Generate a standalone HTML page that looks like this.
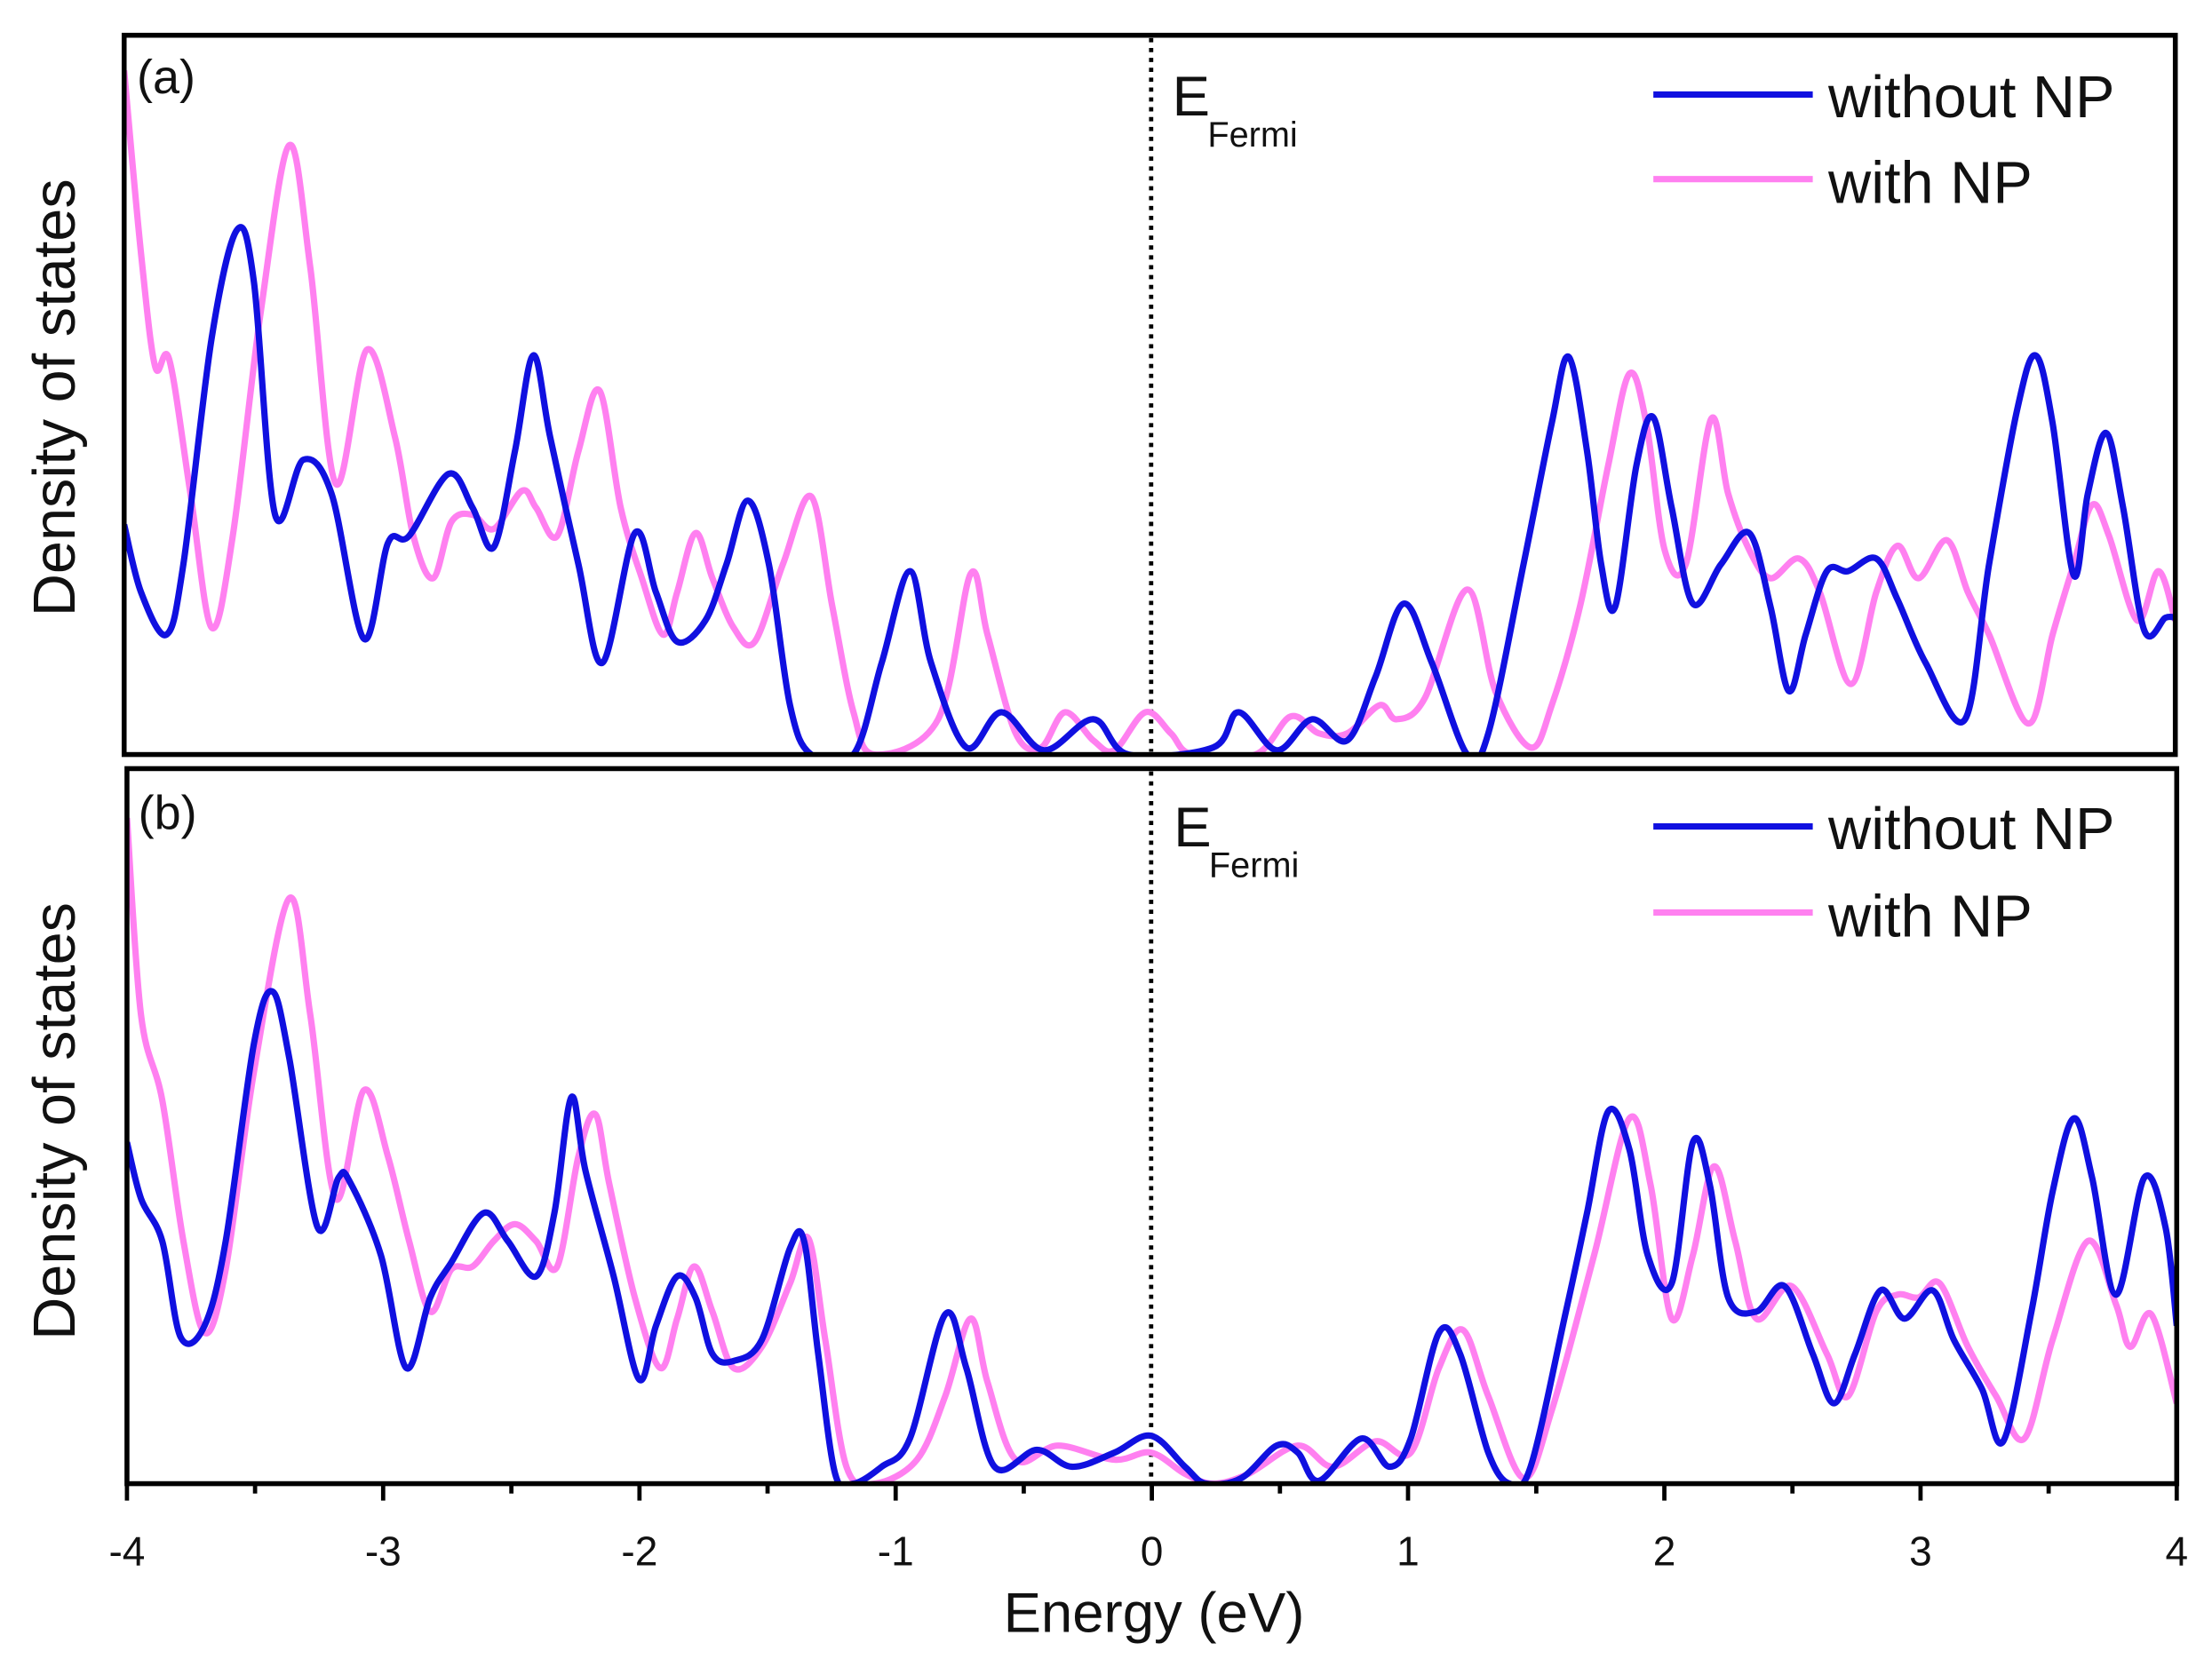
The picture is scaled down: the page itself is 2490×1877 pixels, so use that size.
<!DOCTYPE html>
<html><head><meta charset="utf-8"><style>
html,body{margin:0;padding:0;background:#fff;}
svg{display:block;}
text{font-family:"Liberation Sans","DejaVu Sans",sans-serif;fill:#111;}
</style></head><body>
<svg id="s" width="2490" height="1877" viewBox="0 0 1568 1182" preserveAspectRatio="none" xmlns="http://www.w3.org/2000/svg">
<defs>
<clipPath id="ca"><rect x="88" y="25" width="1454" height="510"/></clipPath>
<clipPath id="cb"><rect x="90" y="545" width="1453" height="507"/></clipPath>
</defs>
<rect x="0" y="0" width="1568" height="1182" fill="#fff"/>
<!-- Panel a -->
<line x1="816" y1="27" x2="816" y2="533" stroke="#000" stroke-width="3" stroke-dasharray="3,4"/>
<g clip-path="url(#ca)">
<polyline class="c" fill="none" stroke="#ff80f0" stroke-width="4.5" stroke-linejoin="round" points="88,50 100,180 110,260 120,255 135,350 150,445 165,380 185,220 205,103 220,190 238,343 260,248 280,310 293,380 307,410 320,370 335,365 350,375 370,348 380,360 395,380 410,320 425,277 440,360 455,410 470,450 480,420 493,378 505,410 520,445 535,455 555,400 575,352 590,430 605,505 620,535 665,510 688,407 700,450 720,520 738,530 755,505 775,525 790,532 812,505 830,520 845,535 890,535 915,508 935,520 955,520 978,500 990,510 1010,495 1040,418 1060,490 1085,530 1100,500 1120,430 1140,330 1155,265 1167,300 1180,390 1195,400 1213,297 1225,350 1240,390 1255,410 1275,396 1290,420 1312,485 1330,420 1345,387 1360,410 1380,383 1395,420 1410,450 1438,513 1455,450 1470,400 1483,358 1495,380 1515,440 1530,405 1542,440"/>
<polyline class="c" fill="none" stroke="#1010e0" stroke-width="4.5" stroke-linejoin="round" points="88,372 100,420 118,450 130,400 150,240 168,163 180,200 195,365 215,326 235,350 258,453 275,385 290,380 318,336 335,360 350,388 365,320 378,252 390,310 410,400 427,470 450,378 465,420 480,455 500,440 515,400 530,355 545,400 560,500 575,535 605,535 625,470 645,405 660,470 685,530 710,505 740,532 775,510 800,535 860,530 878,505 905,532 930,510 955,525 975,480 995,428 1015,470 1040,535 1055,520 1080,400 1100,300 1112,253 1125,320 1135,400 1145,430 1160,330 1172,296 1185,360 1200,428 1220,400 1240,378 1255,430 1268,490 1280,450 1295,405 1310,405 1330,396 1345,425 1365,470 1393,510 1410,400 1430,290 1443,252 1455,300 1470,408 1480,350 1493,307 1505,360 1520,447 1535,438 1542,438"/>
</g>
<rect x="88" y="25" width="1454" height="510" fill="none" stroke="#000" stroke-width="3.5"/>
<text x="97" y="66" font-size="34">(a)</text>
<text x="831" y="82" font-size="40">E</text><text x="856" y="104" font-size="25">Fermi</text>
<line x1="1172" y1="67" x2="1285" y2="67" stroke="#1010e0" stroke-width="4.5"/>
<line x1="1172" y1="127" x2="1285" y2="127" stroke="#ff80f0" stroke-width="4.5"/>
<text x="1296" y="83" font-size="42">without NP</text>
<text x="1296" y="144" font-size="42">with NP</text>
<text transform="translate(53,282) rotate(-90)" font-size="42" text-anchor="middle">Density of states</text>
<!-- Panel b -->
<line x1="816" y1="547" x2="816" y2="1050" stroke="#000" stroke-width="3" stroke-dasharray="3,4"/>
<g clip-path="url(#cb)">
<polyline class="c" fill="none" stroke="#ff80f0" stroke-width="4.5" stroke-linejoin="round" points="90,580 100,720 115,780 130,880 145,945 160,900 180,760 205,637 220,720 238,850 258,773 275,820 290,880 305,930 320,900 335,898 350,880 365,868 380,880 395,898 410,820 422,790 432,840 450,920 468,970 480,935 492,898 505,930 520,970 540,955 560,910 573,878 585,950 600,1040 620,1052 650,1035 670,990 688,935 700,980 720,1035 750,1025 790,1035 816,1030 840,1045 860,1052 885,1045 920,1025 945,1040 975,1022 1000,1030 1020,970 1037,943 1055,990 1080,1048 1100,1000 1130,890 1155,793 1170,840 1185,935 1200,890 1215,827 1230,880 1245,935 1270,912 1295,960 1310,990 1330,930 1345,918 1360,920 1375,910 1395,955 1415,990 1435,1020 1455,950 1480,880 1500,925 1510,955 1525,932 1543,995"/>
<polyline class="c" fill="none" stroke="#1010e0" stroke-width="4.5" stroke-linejoin="round" points="90,810 100,850 115,880 128,948 145,940 160,880 180,740 193,703 205,750 225,870 240,835 248,838 270,890 288,970 305,920 320,895 343,860 360,880 380,905 393,860 405,778 415,830 435,905 453,978 465,940 480,905 493,920 505,960 520,965 540,950 560,885 570,880 580,960 592,1045 605,1052 625,1040 645,1020 670,932 685,970 705,1040 735,1028 760,1040 790,1030 816,1018 840,1040 855,1052 880,1048 905,1025 920,1030 935,1050 965,1020 985,1040 1000,1020 1020,945 1035,960 1055,1030 1070,1052 1085,1040 1110,930 1125,860 1140,788 1155,815 1168,890 1185,910 1200,810 1212,840 1225,920 1245,930 1265,912 1285,960 1300,995 1315,960 1333,915 1350,935 1370,915 1385,950 1405,985 1420,1022 1440,930 1455,845 1470,793 1483,835 1500,918 1520,835 1535,870 1543,940"/>
</g>
<rect x="90" y="545" width="1453" height="507" fill="none" stroke="#000" stroke-width="3.5"/>
<text x="98" y="588" font-size="34">(b)</text>
<text x="832" y="600" font-size="40">E</text><text x="857" y="622" font-size="25">Fermi</text>
<line x1="1172" y1="586" x2="1285" y2="586" stroke="#1010e0" stroke-width="4.5"/>
<line x1="1172" y1="647" x2="1285" y2="647" stroke="#ff80f0" stroke-width="4.5"/>
<text x="1296" y="602" font-size="42">without NP</text>
<text x="1296" y="664" font-size="42">with NP</text>
<text transform="translate(53,795) rotate(-90)" font-size="42" text-anchor="middle">Density of states</text>
<!-- ticks -->
<g stroke="#000" stroke-width="3">
<line x1="90" y1="1052" x2="90" y2="1064"/><line x1="271.6" y1="1052" x2="271.6" y2="1064"/><line x1="453.3" y1="1052" x2="453.3" y2="1064"/><line x1="634.9" y1="1052" x2="634.9" y2="1064"/><line x1="816.5" y1="1052" x2="816.5" y2="1064"/><line x1="998.1" y1="1052" x2="998.1" y2="1064"/><line x1="1179.8" y1="1052" x2="1179.8" y2="1064"/><line x1="1361.4" y1="1052" x2="1361.4" y2="1064"/><line x1="1543" y1="1052" x2="1543" y2="1064"/>
<line x1="180.8" y1="1052" x2="180.8" y2="1059"/><line x1="362.5" y1="1052" x2="362.5" y2="1059"/><line x1="544.1" y1="1052" x2="544.1" y2="1059"/><line x1="725.7" y1="1052" x2="725.7" y2="1059"/><line x1="907.3" y1="1052" x2="907.3" y2="1059"/><line x1="1089" y1="1052" x2="1089" y2="1059"/><line x1="1270.6" y1="1052" x2="1270.6" y2="1059"/><line x1="1452.2" y1="1052" x2="1452.2" y2="1059"/>
</g>
<g font-size="29" text-anchor="middle">
<text x="90" y="1110">-4</text><text x="271.6" y="1110">-3</text><text x="453.3" y="1110">-2</text><text x="634.9" y="1110">-1</text><text x="816.5" y="1110">0</text><text x="998.1" y="1110">1</text><text x="1179.8" y="1110">2</text><text x="1361.4" y="1110">3</text><text x="1543" y="1110">4</text>
</g>
<text x="818" y="1157" font-size="40" text-anchor="middle">Energy (eV)</text>
</svg>
<script>
(function(){
var ns="http://www.w3.org/2000/svg";
var pls=document.querySelectorAll("polyline.c");
for(var k=0;k<pls.length;k++){
 var pl=pls[k];
 var p=pl.getAttribute("points").trim().split(/\s+/).map(function(s){var a=s.split(",");return [+a[0],+a[1]];});
 var d="M"+p[0][0]+","+p[0][1];
 for(var i=0;i<p.length-1;i++){
  var p0=p[i>0?i-1:i],p1=p[i],p2=p[i+1],p3=p[i+2<p.length?i+2:i+1];
  var t=1/6;
  var c1x=p1[0]+(p2[0]-p0[0])*t,c1y=p1[1]+(p2[1]-p0[1])*t;
  var c2x=p2[0]-(p3[0]-p1[0])*t,c2y=p2[1]-(p3[1]-p1[1])*t;
  d+=" C"+c1x.toFixed(1)+","+c1y.toFixed(1)+" "+c2x.toFixed(1)+","+c2y.toFixed(1)+" "+p2[0]+","+p2[1];
 }
 var path=document.createElementNS(ns,"path");
 path.setAttribute("d",d);
 ["fill","stroke","stroke-width","stroke-linejoin"].forEach(function(a){path.setAttribute(a,pl.getAttribute(a));});
 pl.parentNode.replaceChild(path,pl);
}
})();
</script>
</body></html>
